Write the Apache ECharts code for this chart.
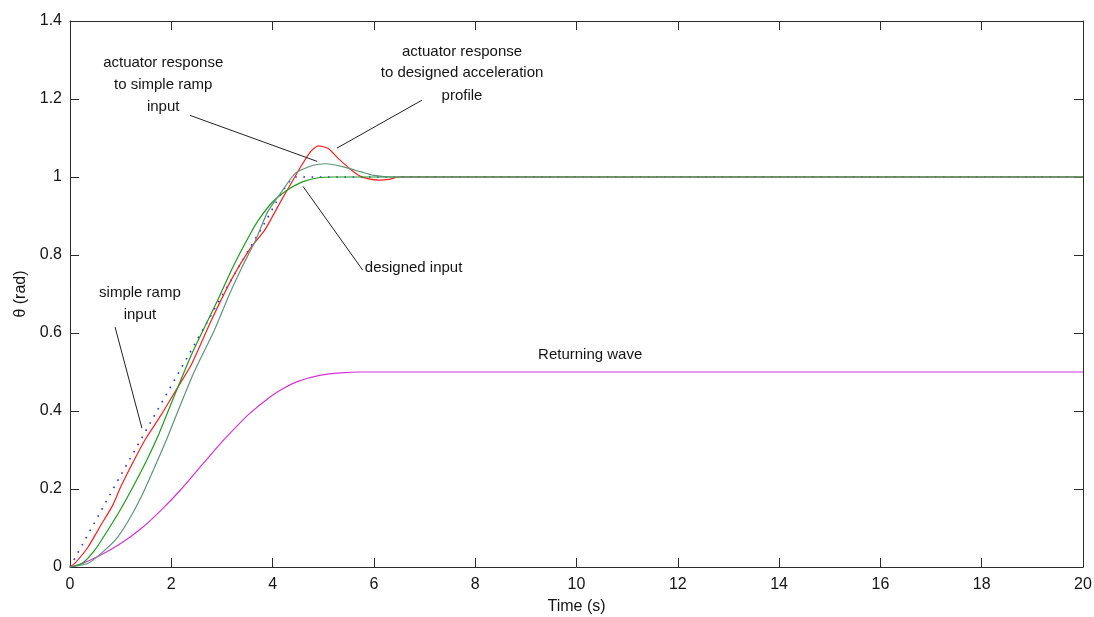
<!DOCTYPE html>
<html>
<head>
<meta charset="utf-8">
<title>Actuator response</title>
<script src="https://cdn.jsdelivr.net/npm/echarts@6/dist/echarts.min.js"></script>
<style>
  html, body { margin: 0; padding: 0; background: #ffffff; }
  #chart { width: 1094px; height: 617px; }
</style>
</head>
<body>
<div id="chart"></div>
<script>
// Simple ramp input (dotted blue)
const rampT = [0, 1, 2, 3, 3.5, 3.8, 4.1, 4.3, 4.45, 7, 20];
const rampV = [0, 0.235, 0.465, 0.695, 0.807, 0.872, 0.942, 0.985, 1.0, 1.0, 1.0];

// Actuator response to the simple ramp input (red)
const rampRespT = [0, 0.1, 0.35, 0.6, 0.85, 1.0, 1.25, 1.5, 1.8, 2.1, 2.4, 2.8, 3.2, 3.55, 3.85, 4.15, 4.35, 4.55, 4.75, 4.9, 5.1, 5.3, 5.5, 5.7, 5.9, 6.1, 6.3, 6.5, 8, 20];
const rampRespV = [0, 0.01, 0.05, 0.105, 0.16, 0.205, 0.27, 0.33, 0.39, 0.455, 0.52, 0.635, 0.74, 0.815, 0.865, 0.935, 0.98, 1.025, 1.065, 1.08, 1.073, 1.047, 1.024, 1.004, 0.995, 0.992, 0.994, 1.0, 1.0, 1.0];

// Designed input (green)
const designT = [0, 0.25, 0.5, 0.75, 1.0, 1.25, 1.5, 1.75, 2.0, 2.4, 2.9, 3.2, 3.55, 3.75, 4.0, 4.3, 4.6, 4.9, 5.2, 8, 20];
const designV = [0, 0.01, 0.045, 0.095, 0.148, 0.207, 0.27, 0.34, 0.42, 0.545, 0.68, 0.765, 0.852, 0.895, 0.936, 0.967, 0.988, 0.998, 1.0, 1.0, 1.0];

// Actuator response to the designed acceleration profile (grey-green)
const designRespT = [0, 0.35, 0.6, 0.9, 1.15, 1.4, 1.65, 1.9, 2.1, 2.45, 2.85, 3.15, 3.4, 3.65, 3.9, 4.15, 4.45, 4.8, 5.05, 5.4, 5.75, 6.0, 6.4, 8, 20];
const designRespV = [0, 0.009, 0.033, 0.07, 0.118, 0.178, 0.25, 0.325, 0.39, 0.5, 0.607, 0.7, 0.77, 0.834, 0.91, 0.957, 1.01, 1.03, 1.034, 1.026, 1.013, 1.004, 1.0, 1.0, 1.0];

// Returning wave (magenta)
const returnT = [0, 0.15, 0.6, 1.0, 1.4, 1.8, 2.2, 2.6, 3.0, 3.3, 3.55, 3.95, 4.2, 4.5, 4.95, 5.35, 5.75, 8, 20];
const returnV = [0, 0.004, 0.03, 0.06, 0.098, 0.146, 0.2, 0.261, 0.321, 0.362, 0.394, 0.436, 0.457, 0.476, 0.492, 0.498, 0.5, 0.5, 0.5];

// Axis ticks
const xTicks = [0, 2, 4, 6, 8, 10, 12, 14, 16, 18, 20];
const yTicks = [0, 0.2, 0.4, 0.6, 0.8, 1, 1.2, 1.4];

// Annotation leader lines, in data coordinates [t, theta]
const leaderRampResp = [[2.37, 1.158], [4.88, 1.040]];
const leaderDesignResp = [[6.95, 1.197], [5.27, 1.074]];
const leaderDesign = [[4.60, 0.976], [5.78, 0.761]];
const leaderRamp = [[0.89, 0.615], [1.42, 0.356]];

// Annotation texts: [text, t, theta, align]
const notes = [
  ['actuator response', 1.84, 1.292, 'center'],
  ['to simple ramp', 1.84, 1.235, 'center'],
  ['input', 1.84, 1.179, 'center'],
  ['actuator response', 7.74, 1.320, 'center'],
  ['to designed acceleration', 7.74, 1.266, 'center'],
  ['profile', 7.74, 1.207, 'center'],
  ['designed input', 5.82, 0.766, 'left'],
  ['simple ramp', 1.38, 0.702, 'center'],
  ['input', 1.38, 0.646, 'center'],
  ['Returning wave', 10.27, 0.543, 'center']
];

const FONT = '"Liberation Sans", Arial, Helvetica, sans-serif';
const AXIS_COLOR = '#2b2b2b';
const TEXT_COLOR = '#141414';

function pairs(ts, vs) {
  return ts.map((t, i) => [t, vs[i]]);
}

const chart = echarts.init(document.getElementById('chart'), null, { renderer: 'canvas' });

const tickStyle = { show: true, inside: true, length: 9, lineStyle: { color: AXIS_COLOR, width: 1 } };
const lineAxis = { show: true, onZero: false, lineStyle: { color: AXIS_COLOR, width: 1 } };

function lineSeries(name, ts, vs, color, extra) {
  return Object.assign({
    name: name,
    type: 'line',
    data: pairs(ts, vs),
    showSymbol: false,
    symbol: 'none',
    smooth: 0.2,
    animation: false,
    lineStyle: { color: color, width: 1.2 },
    emphasis: { disabled: true }
  }, extra || {});
}

function leader(seg) {
  return {
    type: 'line', data: [], silent: true, animation: false,
    markLine: {
      silent: true, symbol: ['none', 'none'], animation: false,
      label: { show: false },
      lineStyle: { color: '#222222', width: 1, type: 'solid' },
      data: [[{ coord: seg[0] }, { coord: seg[1] }]]
    }
  };
}

chart.setOption({
  backgroundColor: '#ffffff',
  animation: false,
  textStyle: { fontFamily: FONT },
  grid: { left: 70, right: 11, top: 21, bottom: 50, containLabel: false, outerBoundsMode: 'none' },
  xAxis: [
    {
      type: 'value', min: 0, max: 20, interval: 2, position: 'bottom',
      name: 'Time (s)', nameLocation: 'middle', nameGap: 32,
      nameTextStyle: { color: TEXT_COLOR, fontSize: 16, fontFamily: FONT },
      axisLine: lineAxis, axisTick: tickStyle,
      axisLabel: { color: TEXT_COLOR, fontSize: 16, fontFamily: FONT, margin: 10,
        customValues: xTicks },
      splitLine: { show: false }
    },
    {
      type: 'value', min: 0, max: 20, interval: 2, position: 'top',
      axisLine: lineAxis, axisTick: tickStyle,
      axisLabel: { show: false }, splitLine: { show: false }
    }
  ],
  yAxis: [
    {
      type: 'value', min: 0, max: 1.4, interval: 0.2, position: 'left',
      name: 'θ (rad)', nameLocation: 'middle', nameGap: 35, nameRotate: 90,
      nameTextStyle: { color: TEXT_COLOR, fontSize: 16, fontFamily: FONT },
      axisLine: lineAxis, axisTick: tickStyle,
      axisLabel: { color: TEXT_COLOR, fontSize: 16, fontFamily: FONT, margin: 8,
        formatter: v => String(+v.toFixed(1)) },
      splitLine: { show: false }
    },
    {
      type: 'value', min: 0, max: 1.4, interval: 0.2, position: 'right',
      axisLine: lineAxis, axisTick: tickStyle,
      axisLabel: { show: false }, splitLine: { show: false }
    }
  ],
  series: [
    lineSeries('Returning wave', returnT, returnV, '#d633d6'),
    lineSeries('simple ramp input', rampT, rampV, '#1a1aff', {
      smooth: false,
      lineStyle: { color: '#2a2aff', width: 1.6, type: [1.6, 6.6], cap: 'butt' }
    }),
    lineSeries('actuator response to simple ramp input', rampRespT, rampRespV, '#ff2020'),
    lineSeries('designed input', designT, designV, '#1f9a1f'),
    lineSeries('actuator response to designed acceleration profile', designRespT, designRespV, '#5e9478'),
    leader(leaderRampResp),
    leader(leaderDesignResp),
    leader(leaderDesign),
    leader(leaderRamp)
  ]
});

// Place the annotation texts through the chart's own coordinate system
function drawNotes() {
  const elements = notes.map(n => {
    const p = chart.convertToPixel({ xAxisIndex: 0, yAxisIndex: 0 }, [n[1], n[2]]);
    return {
      type: 'text',
      x: p[0], y: p[1],
      silent: true,
      style: {
        text: n[0],
        fill: TEXT_COLOR,
        font: '15px ' + FONT,
        textAlign: n[3],
        textVerticalAlign: 'middle'
      }
    };
  });
  chart.setOption({ graphic: { elements: elements } });
}
drawNotes();
</script>
</body>
</html>
